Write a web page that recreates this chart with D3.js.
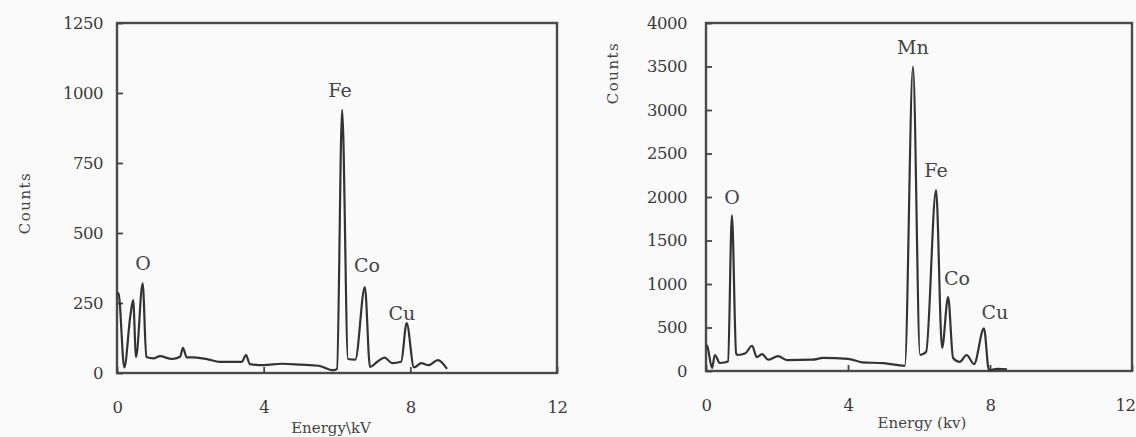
<!DOCTYPE html>
<html lang="en">
<head>
    <meta charset="UTF-8">
    <title>EDS Spectra</title>
    <script src="https://cdnjs.cloudflare.com/ajax/libs/d3/7.8.5/d3.js"></script>
    <style>
        body { margin: 0; background: #fafafa; }
        svg { display: block; }
        .tick text { font-family: "DejaVu Serif", serif; font-size: 16.5px; fill: #3a3a3a; letter-spacing: -0.5px; }
        .tick line { stroke: #444; stroke-width: 1.8px; }
        .peak { font-family: "DejaVu Serif", serif; font-size: 19px; fill: #444; }
        .axlabel { font-family: "DejaVu Serif", serif; font-size: 15px; fill: #444; }
    </style>
</head>
<body>
<svg id="chart" width="1136" height="437"></svg>

<script>
    // left spectrum (Fe, Co, Cu, O)
    const energyA = [0.00, 0.04, 0.20, 0.36, 0.44, 0.52, 0.70, 0.80, 1.00, 1.17, 1.50, 1.72, 1.80, 1.90, 2.18, 2.50, 2.80, 3.40, 3.52, 3.62, 4.00, 4.50, 5.00, 5.50, 5.90, 6.00, 6.14, 6.30, 6.50, 6.76, 6.90, 7.10, 7.30, 7.50, 7.75, 7.90, 8.10, 8.30, 8.50, 8.75, 9.00];
    const countsA = [280, 285, 20, 200, 260, 57, 320, 57, 52, 60, 50, 58, 90, 56, 55, 48, 40, 40, 64, 32, 28, 33, 30, 26, 10, 15, 940, 50, 48, 307, 22, 40, 55, 35, 40, 178, 20, 35, 28, 46, 15];
    const peaksA = ["O", "Fe", "Co", "Cu"];
    const peakEA = [0.71, 6.08, 6.82, 7.77];
    const peakCA = [393, 1010, 386, 214];

    // right spectrum (Mn, Fe, Co, Cu, O)
    const energyB = [0.00, 0.04, 0.17, 0.25, 0.39, 0.55, 0.62, 0.73, 0.85, 0.90, 1.10, 1.30, 1.43, 1.58, 1.75, 2.03, 2.28, 3.00, 3.30, 4.00, 4.40, 5.00, 5.60, 5.83, 6.03, 6.20, 6.48, 6.65, 6.82, 6.96, 7.15, 7.34, 7.55, 7.83, 7.97, 8.20, 8.48];
    const countsB = [300, 280, 35, 184, 92, 100, 110, 1790, 200, 184, 200, 290, 160, 195, 130, 170, 125, 130, 150, 140, 100, 90, 60, 3500, 185, 220, 2080, 265, 850, 150, 105, 184, 80, 490, 10, 25, 20];
    const peaksB = ["O", "Mn", "Fe", "Co", "Cu"];
    const peakEB = [0.73, 5.83, 6.48, 7.07, 8.14];
    const peakCB = [2000, 3724, 2310, 1069, 678];

    const xTicks = [0, 4, 8, 12];
    const yTicksA = [0, 250, 500, 750, 1000, 1250];
    const yTicksB = [0, 500, 1000, 1500, 2000, 2500, 3000, 3500, 4000];

    const svg = d3.select("#chart");

    function panel(opts) {
        const g = svg.append("g");
        const x = d3.scaleLinear().domain([0, 12]).range([opts.left, opts.right]);
        const y = d3.scaleLinear().domain([0, opts.yMax]).range([opts.bottom, opts.top]);

        g.append("rect")
            .attr("x", opts.left).attr("y", opts.top)
            .attr("width", opts.right - opts.left)
            .attr("height", opts.bottom - opts.top)
            .attr("fill", "none")
            .attr("stroke", "#4a4a4a")
            .attr("stroke-width", 2.4);

        const yAxis = g.append("g")
            .attr("transform", `translate(${opts.left},0)`)
            .call(d3.axisLeft(y).tickValues(opts.yTicks).tickFormat(d3.format("d"))
                .tickSizeInner(-6).tickSizeOuter(0).tickPadding(opts.yPad));
        yAxis.select(".domain").remove();

        const xAxis = g.append("g")
            .attr("transform", `translate(0,${opts.bottom})`)
            .call(d3.axisBottom(x).tickValues(xTicks).tickSizeInner(-6).tickSizeOuter(0).tickPadding(28));
        xAxis.select(".domain").remove();
        // keep the last label inside the page on the right panel
        if (opts.lastTickShift) {
            xAxis.selectAll(".tick text").filter(d => d === 12).attr("dx", opts.lastTickShift);
        }

        const pts = opts.energy.map((e, i) => [e, opts.counts[i]]);
        const line = d3.line()
            .x(d => x(d[0]))
            .y(d => y(d[1]))
            .curve(d3.curveMonotoneX);

        g.append("path")
            .datum(pts)
            .attr("d", line)
            .attr("fill", "none")
            .attr("stroke", "#333")
            .attr("stroke-width", 2.2)
            .attr("stroke-linejoin", "round");

        g.selectAll(".peak")
            .data(opts.peaks)
            .enter()
            .append("text")
            .attr("class", "peak")
            .attr("x", (d, i) => x(opts.peakE[i]))
            .attr("y", (d, i) => y(opts.peakC[i]))
            .attr("text-anchor", "middle")
            .attr("dominant-baseline", "central")
            .text(d => d);

        g.append("text")
            .attr("class", "axlabel")
            .attr("transform", `translate(${opts.yLabelX},${opts.yLabelY}) rotate(-90)`)
            .attr("text-anchor", "middle")
            .attr("dominant-baseline", "central")
            .attr("letter-spacing", "1.5px")
            .text("Counts");

        g.append("text")
            .attr("class", "axlabel")
            .attr("x", opts.xLabelX)
            .attr("y", opts.xLabelY)
            .attr("text-anchor", "middle")
            .attr("font-size", "15px")
            .text(opts.xLabel);
    }

    panel({
        left: 117, right: 557, top: 23, bottom: 373, yMax: 1250,
        yTicks: yTicksA, yPad: 14,
        energy: energyA, counts: countsA,
        peaks: peaksA, peakE: peakEA, peakC: peakCA,
        yLabelX: 25, yLabelY: 203,
        xLabel: "Energy\\kV", xLabelX: 331, xLabelY: 433
    });

    panel({
        left: 706, right: 1132, top: 23, bottom: 371, yMax: 4000,
        yTicks: yTicksB, yPad: 19,
        energy: energyB, counts: countsB,
        peaks: peaksB, peakE: peakEB, peakC: peakCB,
        yLabelX: 613, yLabelY: 73,
        xLabel: "Energy (kv)", xLabelX: 922, xLabelY: 428,
        lastTickShift: -7
    });
</script>
</body>
</html>
